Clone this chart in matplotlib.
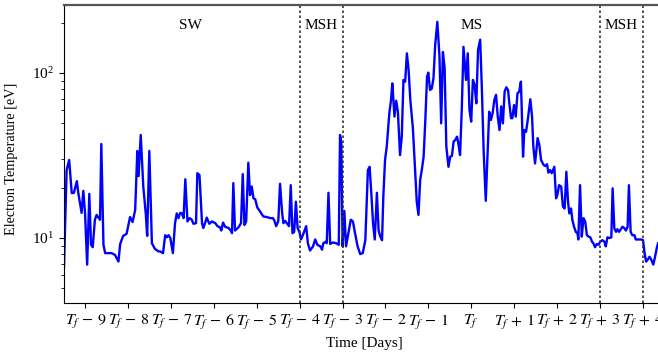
import matplotlib
matplotlib.use("Agg")
import matplotlib.pyplot as plt
import matplotlib.transforms as mtransforms
import numpy as np

# time in days relative to T_f, electron temperature in eV
days = [
    -9.50, -9.44, -9.38, -9.32, -9.27, -9.20, -9.17, -9.09, -9.05, -9.01,
    -8.96, -8.91, -8.87, -8.83, -8.78, -8.74, -8.66, -8.63, -8.58, -8.54,
    -8.39, -8.31, -8.23, -8.19, -8.12, -8.04, -7.96, -7.90, -7.84, -7.79,
    -7.76, -7.71, -7.65, -7.59, -7.56, -7.51, -7.45, -7.38, -7.30,
    -7.26, -7.19, -7.14, -7.10, -7.06, -7.02, -6.96, -6.91, -6.87, -6.83,
    -6.79, -6.75, -6.71, -6.67, -6.62, -6.57, -6.52, -6.48, -6.42, -6.39,
    -6.34, -6.28, -6.25, -6.21, -6.17, -6.11, -6.05, -5.97, -5.92, -5.86,
    -5.83, -5.79, -5.74, -5.66, -5.61, -5.58, -5.55, -5.51, -5.43, -5.37,
    -5.33, -5.29, -5.25, -5.20, -5.16, -5.12, -5.08, -5.04, -4.99, -4.92,
    -4.85, -4.77,
    -4.69, -4.63, -4.60, -4.55, -4.50, -4.46, -4.41, -4.38, -4.34, -4.29,
    -4.25, -4.21, -4.17, -4.13, -4.09, -4.05, -4.01, -3.97, -3.91, -3.85,
    -3.81, -3.76, -3.69, -3.64, -3.59, -3.52, -3.48, -3.45, -3.39, -3.37,
    -3.33, -3.29, -3.23, -3.15, -3.12, -3.09, -3.06, -3.03, -3.00, -2.96,
    -2.92, -2.86, -2.81, -2.76, -2.71, -2.65, -2.59, -2.53, -2.47,
    -2.41, -2.37, -2.33, -2.29, -2.25, -2.20, -2.16, -2.12, -2.08, -2.05,
    -2.01, -1.97, -1.91, -1.87, -1.84, -1.79, -1.75, -1.71, -1.66, -1.62,
    -1.58, -1.54, -1.50, -1.46, -1.42, -1.36, -1.31, -1.27, -1.23, -1.19,
    -1.15, -1.11, -1.07, -1.03, -1.00, -0.96, -0.92, -0.88, -0.84, -0.79,
    -0.74, -0.70, -0.66, -0.62, -0.58, -0.53, -0.49, -0.45, -0.41, -0.37,
    -0.33, -0.30, -0.26, -0.22, -0.18, -0.12, -0.08,
    -0.04, 0.00, 0.04, 0.08, 0.12, 0.16, 0.21, 0.25, 0.29, 0.34,
    0.38, 0.42, 0.46, 0.50, 0.54, 0.58, 0.62, 0.66, 0.70, 0.74,
    0.78, 0.82, 0.86, 0.89, 0.93, 0.96, 1.00, 1.04, 1.08, 1.12,
    1.16, 1.18, 1.21, 1.24, 1.28, 1.32, 1.38, 1.42, 1.45, 1.49,
    1.55, 1.59, 1.63, 1.69, 1.73, 1.77, 1.80, 1.84, 1.88, 1.94,
    1.98, 2.01, 2.05, 2.10, 2.14, 2.18, 2.22,
    2.26, 2.29, 2.33, 2.36, 2.40, 2.44, 2.48, 2.50, 2.54, 2.58,
    2.62, 2.66, 2.70, 2.74, 2.78, 2.82, 2.85, 2.89, 2.93, 2.97,
    3.01, 3.06, 3.11, 3.14, 3.18, 3.23, 3.27, 3.30, 3.34, 3.38,
    3.41, 3.45, 3.49, 3.53, 3.57, 3.61, 3.65, 3.68, 3.72, 3.76,
    3.81, 3.84, 3.90, 3.97, 4.01, 4.04, 4.08, 4.12, 4.16, 4.20,
    4.25, 4.29, 4.33, 4.36,
]
temp_ev = [
    6.7, 25.8, 29.7, 18.7, 18.8, 22.1, 19.0, 14.2, 19.3, 14.2,
    6.9, 18.5, 9.1, 8.8, 12.9, 13.8, 12.9, 37.1, 9.1, 8.1,
    8.1, 7.9, 7.2, 9.2, 10.3, 10.6, 13.4, 12.5, 14.8, 33.7,
    23.7, 42.1, 20.4, 13.8, 10.3, 33.7, 9.3, 8.6, 8.3,
    8.3, 8.1, 10.4, 10.1, 10.4, 10.0, 8.1, 12.3, 14.1, 13.2,
    14.2, 14.1, 13.2, 22.7, 12.6, 13.2, 12.9, 12.2, 12.3, 24.7,
    24.1, 12.3, 11.5, 12.3, 13.3, 12.2, 12.6, 12.3, 11.8, 11.6,
    11.1, 12.4, 11.7, 11.5, 11.1, 10.7, 21.5, 11.1, 11.6, 12.3,
    24.4, 12.0, 12.6, 28.6, 18.2, 20.5, 17.4, 17.2, 15.3, 14.4,
    13.5, 13.4,
    13.2, 13.2, 12.9, 11.8, 12.7, 21.3, 14.1, 12.3, 12.7, 12.2,
    11.8, 20.9, 10.7, 10.9, 16.6, 11.5, 10.9, 9.8, 10.7, 11.8,
    9.3, 8.4, 8.9, 9.8, 9.1, 8.9, 8.5, 9.3, 9.5, 9.3,
    18.8, 9.2, 9.4, 9.3, 9.2, 9.1, 42.1, 37.5, 8.9, 14.6,
    8.9, 10.9, 12.9, 12.6, 10.7, 8.9, 8.0, 8.1, 9.7,
    25.8, 27.0, 18.6, 12.3, 9.8, 18.8, 11.1, 10.2, 9.7, 17.8,
    29.7, 35.8, 57.0, 68.6, 86.5, 54.4, 67.9, 58.2, 31.8, 41.1,
    90.7, 88.6, 131.5, 104.0, 68.6, 46.2, 25.8, 16.6, 13.8, 22.5,
    26.1, 31.1, 51.9, 95.0, 100.4, 78.9, 80.4, 92.8, 148.0, 204.0,
    126.0, 49.5, 134.0, 107.0, 35.8, 27.0, 31.1, 31.4, 38.4, 39.3,
    41.1, 37.5, 31.8, 59.7, 144.0, 90.7, 131.5,
    59.7, 50.7, 90.7, 84.6, 65.5, 138.0, 159.0, 78.9, 34.1, 16.8,
    31.1, 58.2, 51.9, 57.0, 68.6, 73.7, 54.4, 45.1, 62.7, 49.5,
    77.0, 81.9, 78.9, 65.5, 53.2, 53.2, 63.9, 54.4, 75.3, 77.0,
    88.6, 59.7, 31.1, 45.1, 44.0, 51.9, 69.3, 54.4, 35.8, 28.3,
    40.3, 36.6, 29.7, 27.7, 27.3, 28.0, 24.9, 25.8, 24.7, 27.0,
    17.4, 18.2, 20.9, 20.5, 15.5, 15.1, 25.2,
    16.5, 14.1, 15.1, 12.9, 11.7, 10.9, 10.7, 9.8, 20.9, 10.2,
    13.2, 12.6, 10.4, 10.2, 10.1, 9.5, 9.3, 8.8, 9.2, 9.1,
    9.5, 9.7, 9.5, 8.9, 10.1, 10.0, 10.1, 20.0, 11.4, 10.9,
    11.3, 10.9, 11.3, 11.7, 11.5, 11.1, 11.7, 20.9, 10.9, 10.4,
    10.4, 9.8, 9.8, 9.8, 9.7, 8.3, 7.2, 7.4, 7.7, 7.4,
    6.9, 7.7, 8.7, 9.3,
]

tick_days = list(range(-9, 5))
tick_labels = ["$T_f$" if d == 0 else "$T_f\\,%s\\,%d$" % ("+" if d > 0 else "-", abs(d))
               for d in tick_days]
boundaries = [-4, -3, 3, 4]
region_names = ["SW", "MSH", "MS", "MSH"]
region_centres = [-6.56, -3.5, 0.0, 3.5]

plt.rcParams["font.family"] = "Liberation Serif"
plt.rcParams["mathtext.fontset"] = "stix"

fig = plt.figure(figsize=(6.58, 3.55), dpi=100)
ax = fig.add_axes([0.0973, 0.1465, 0.9119, 0.8394])

ax.plot(days, temp_ev, color="#0000ff", lw=1.7)
for b in boundaries:
    ax.axvline(b, color="#333333", ls=(0, (1.5, 1.5)), lw=1.2)

trans = mtransforms.blended_transform_factory(ax.transData, ax.transAxes)
for name, xc in zip(region_names, region_centres):
    ax.text(xc, 0.93, name, transform=trans, ha="center", va="center", fontsize=11)

ax.set_yscale("log")
ax.set_xlim(-9.5, 4.5)
ax.set_ylim(4.04, 258)
ax.set_xticks(tick_days)
ax.set_xticklabels(tick_labels, fontsize=11.5)
ax.tick_params(axis="y", labelsize=11)
ax.tick_params(which="both", direction="out")
ax.set_xlabel("Time [Days]", fontsize=11)
ax.set_ylabel("Electron Temperature [eV]", fontsize=10.3)
ax.yaxis.set_label_coords(-0.077, 0.483)

ax.spines["top"].set_color("#555555")
ax.spines["top"].set_linewidth(1.6)
ax.spines["right"].set_visible(False)

fig.savefig("out.png", dpi=100)
